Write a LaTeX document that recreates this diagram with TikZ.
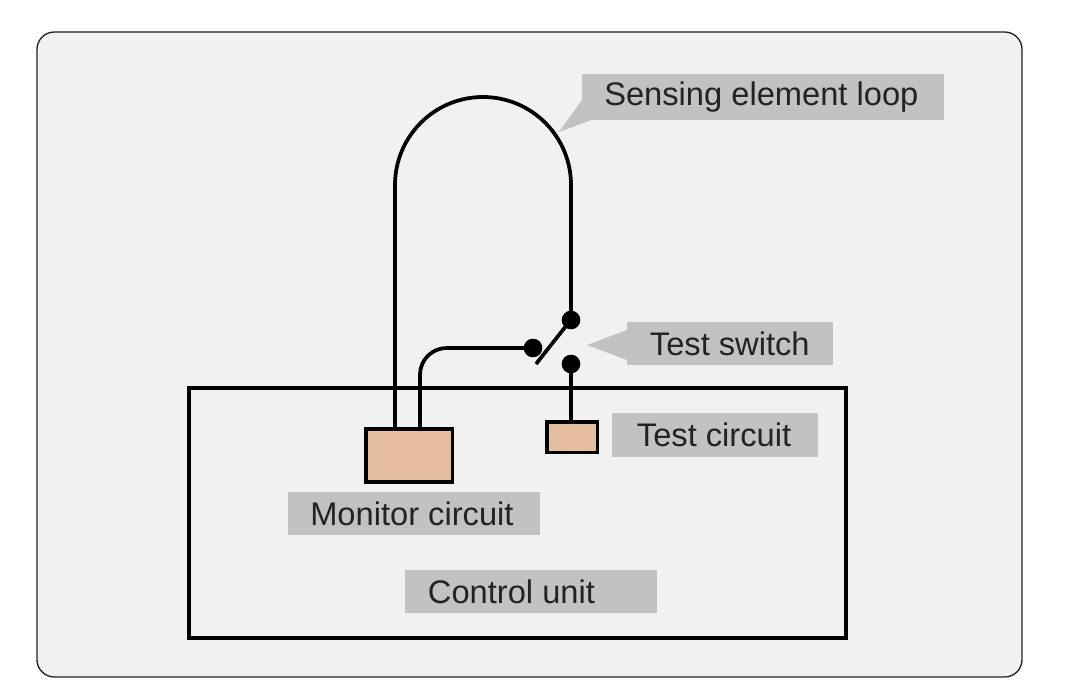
\documentclass[tikz,border=0pt]{standalone}
\usepackage{fontspec}
\setmainfont{Liberation Sans}
\usetikzlibrary{positioning,calc}
\definecolor{panel}{HTML}{F1F1F1}
\definecolor{tag}{HTML}{C2C2C2}
\definecolor{unitfill}{HTML}{E6BF9F}
\definecolor{ink}{HTML}{232323}

\tikzset{
  wire/.style={line width=2.8pt, black},
  unit/.style={draw, line width=2.8pt, fill=unitfill, inner sep=0pt, anchor=north west},
  label/.style={fill=tag, inner sep=0pt, anchor=north west},
  caption/.style={text=ink, anchor=west, inner sep=0pt, font=\fontsize{24.5}{28}\selectfont},
  dot/.style={circle, fill=black, inner sep=0pt, minimum size=14pt},
}

\begin{document}
\begin{tikzpicture}[x=0.75pt,y=-0.75pt]
  \useasboundingbox (0,0) rectangle (1069,692);
  % background panel
  \draw[fill=panel, draw=ink, line width=1pt, rounded corners=13pt] (37,32) rectangle (1022,677);
  % control unit
  \draw[line width=2.8pt] (189,388) rectangle (846,638);

  % circuits
  \node[unit, minimum width=65pt, minimum height=40pt] (monitor) at (364,427) {};
  \node[unit, minimum width=38pt, minimum height=23pt] (test) at (545,420) {};

  % switch contacts
  \node[dot] (top) at (571,320) {};
  \node[dot] (blade) at (533,348) {};
  \node[dot] (bottom) at (571,364) {};

  % sensing loop
  \draw[wire] (395,427) -- (395,185) arc (-180:0:88) -- (top.center);
  \draw[wire, rounded corners=20pt] (420,427) -- (420,348) -- (blade.center);
  \draw[wire] (536,364) -- (566,326);
  \draw[wire] (bottom.center) -- (test.north -| bottom);

  % labels with pointers
  \fill[tag] (559,132) -- (582,100) -- (582,119) -- (594,119) -- cycle;
  \node[label, minimum width=271.5pt, minimum height=34pt] (loop) at (582,74) {};
  \node[caption] at ([xshift=16.5pt]loop.west) {Sensing element loop};
  \fill[tag] (587,345) -- (627,330) -- (627,360) -- cycle;
  \node[label, minimum width=154pt, minimum height=32pt] (sw) at (627,322) {};
  \node[caption] at ([xshift=17pt]sw.west) {Test switch};
  \node[label, minimum width=154.5pt, minimum height=33pt] (tc) at (612,413) {};
  \node[caption] at ([xshift=18.5pt]tc.west) {Test circuit};
  \node[label, minimum width=189pt, minimum height=32pt] (mc) at (288,492) {};
  \node[caption] at ([xshift=16.5pt]mc.west) {Monitor circuit};
  \node[label, minimum width=189pt, minimum height=32pt] (cu) at (405,570) {};
  \node[caption] at ([xshift=17pt]cu.west) {Control unit};
\end{tikzpicture}
\end{document}
